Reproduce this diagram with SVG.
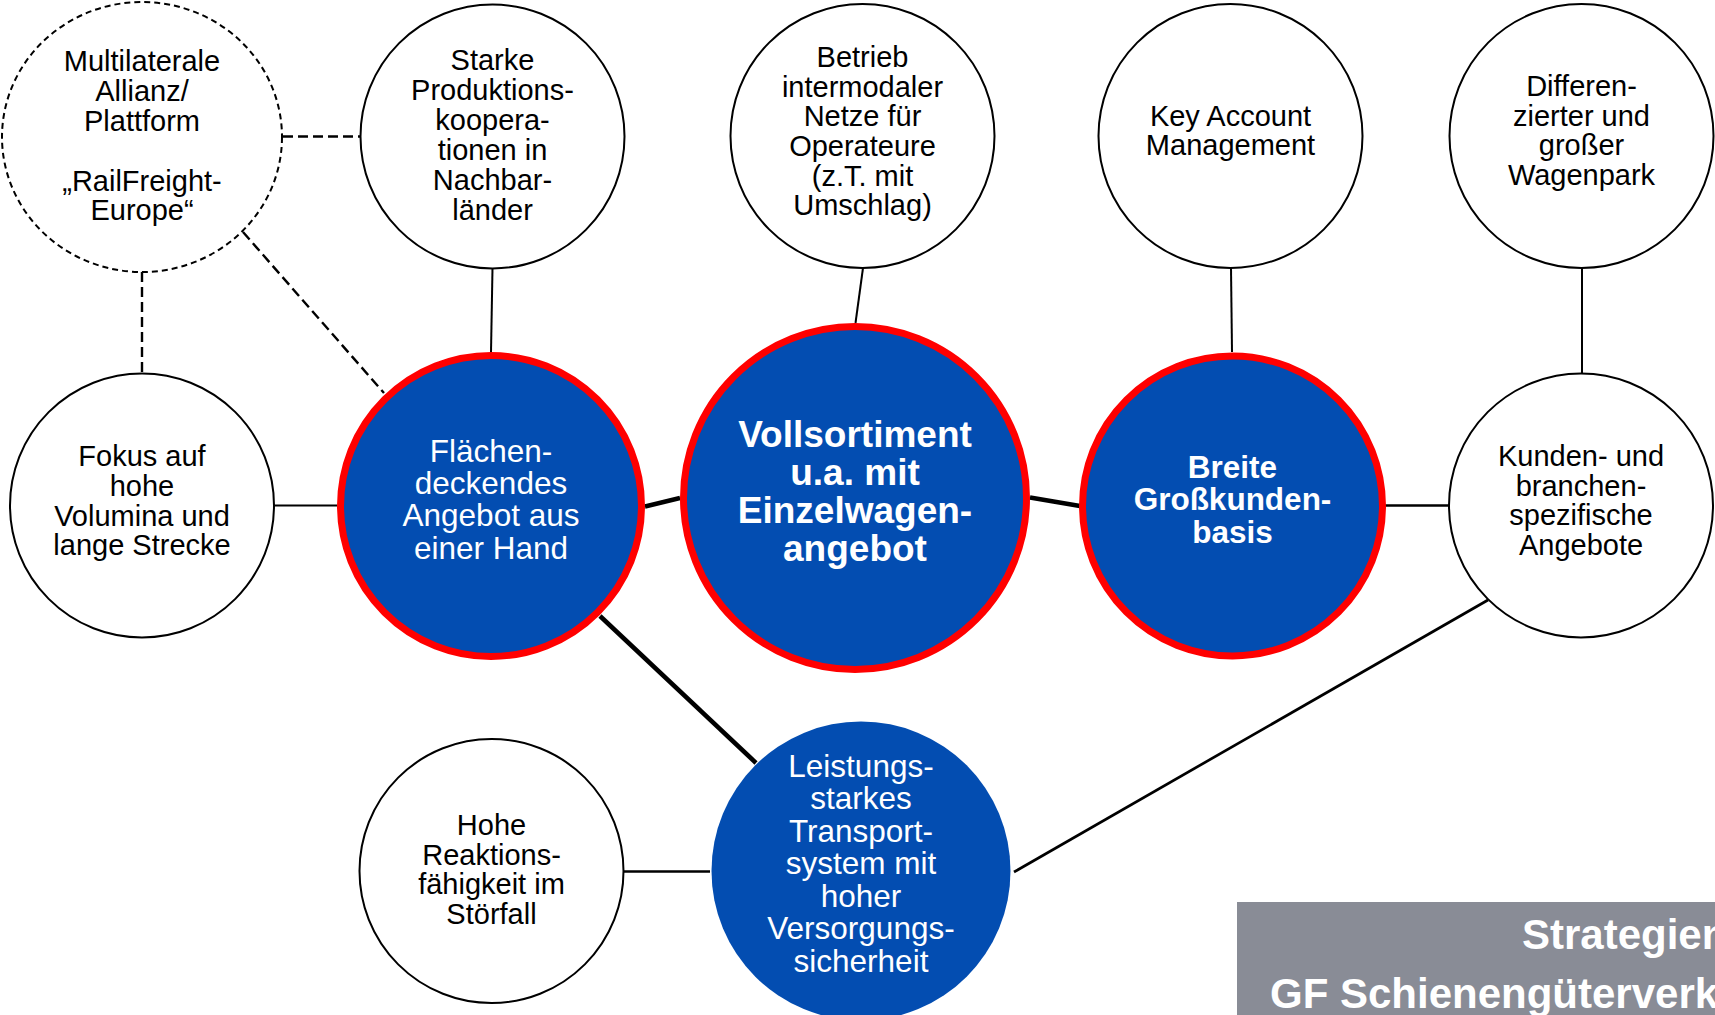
<svg xmlns="http://www.w3.org/2000/svg" width="1715" height="1015" viewBox="0 0 1715 1015">
<style>
.w{fill:#fff;stroke:#000;stroke-width:2}
.wd{fill:#fff;stroke:#000;stroke-width:2;stroke-dasharray:6 4}
.b{fill:#034DB1;stroke:#FF0000;stroke-width:7}
.bn{fill:#034DB1}
.t{font-family:"Liberation Sans",Arial,sans-serif;font-size:29px;fill:#000;text-anchor:middle}
.tb{font-family:"Liberation Sans",Arial,sans-serif;font-size:31.5px;fill:#fff;text-anchor:middle}
.tbb{font-family:"Liberation Sans",Arial,sans-serif;font-weight:bold;fill:#fff;text-anchor:middle}
.c1{stroke:#000;stroke-width:2;fill:none}
.c2{stroke:#000;stroke-width:2.7;fill:none}
.c3{stroke:#000;stroke-width:4.5;fill:none}
.cd{stroke:#000;stroke-width:2.4;fill:none;stroke-dasharray:10 5}
.bt{font-family:"Liberation Sans",Arial,sans-serif;font-weight:bold;font-size:42px;fill:#fff}
</style>
<rect width="1715" height="1015" fill="#fff"/>
<g id="connectors">
<line class="cd" x1="283" y1="136.5" x2="361" y2="136.5"/>
<line class="cd" x1="142" y1="272" x2="142" y2="373"/>
<line class="cd" x1="243" y1="232" x2="384" y2="393"/>
<line class="c1" x1="492.5" y1="268" x2="491" y2="352"/>
<line class="c1" x1="863" y1="268" x2="855.5" y2="323"/>
<line class="c1" x1="1231" y1="268" x2="1232" y2="352"/>
<line class="c1" x1="1582" y1="268" x2="1582" y2="373"/>
<line class="c1" x1="274" y1="505.5" x2="337" y2="505.5"/>
<line class="c3" x1="645" y1="506.5" x2="680" y2="498"/>
<line class="c3" x1="1030" y1="497.5" x2="1080" y2="506"/>
<line class="c2" x1="1385" y1="505.5" x2="1450" y2="505.5"/>
<line class="c3" x1="600" y1="616" x2="756" y2="763"/>
<line class="c2" x1="624" y1="871.5" x2="710" y2="871.5"/>
<line class="c2" x1="1014" y1="872" x2="1488" y2="600"/>
</g>
<g id="n-multilaterale">
<ellipse class="wd" cx="142" cy="137" rx="140" ry="135"/>
<text class="t"><tspan x="142" y="70.5">Multilaterale</tspan><tspan x="142" y="100.5">Allianz/</tspan><tspan x="142" y="130.5">Plattform</tspan><tspan x="142" y="190.5">„RailFreight-</tspan><tspan x="142" y="219.5">Europe“</tspan></text>
</g>
<g id="n-starke">
<ellipse class="w" cx="492.5" cy="136.5" rx="132" ry="132"/>
<text class="t"><tspan x="492.5" y="69.5">Starke</tspan><tspan x="492.5" y="99.5">Produktions-</tspan><tspan x="492.5" y="129.5">koopera-</tspan><tspan x="492.5" y="159.5">tionen in</tspan><tspan x="492.5" y="189.5">Nachbar-</tspan><tspan x="492.5" y="219.5">länder</tspan></text>
</g>
<g id="n-betrieb">
<ellipse class="w" cx="862.5" cy="136" rx="132" ry="132"/>
<text class="t"><tspan x="862.5" y="66.5">Betrieb</tspan><tspan x="862.5" y="96.5">intermodaler</tspan><tspan x="862.5" y="126">Netze für</tspan><tspan x="862.5" y="155.5">Operateure</tspan><tspan x="862.5" y="185.5">(z.T. mit</tspan><tspan x="862.5" y="215">Umschlag)</tspan></text>
</g>
<g id="n-key">
<ellipse class="w" cx="1230.5" cy="136" rx="132" ry="132"/>
<text class="t"><tspan x="1230.5" y="125.5">Key Account</tspan><tspan x="1230.5" y="155">Management</tspan></text>
</g>
<g id="n-differenzierter">
<ellipse class="w" cx="1581.5" cy="136" rx="132" ry="132"/>
<text class="t"><tspan x="1581.5" y="95.5">Differen-</tspan><tspan x="1581.5" y="125.5">zierter und</tspan><tspan x="1581.5" y="154.5">großer</tspan><tspan x="1581.5" y="184.5">Wagenpark</tspan></text>
</g>
<g id="n-fokus">
<ellipse class="w" cx="142" cy="505.5" rx="132" ry="132"/>
<text class="t"><tspan x="142" y="465.5">Fokus auf</tspan><tspan x="142" y="495.5">hohe</tspan><tspan x="142" y="525.5">Volumina und</tspan><tspan x="142" y="554.5">lange Strecke</tspan></text>
</g>
<g id="n-flaechen">
<circle class="b" cx="491" cy="506" r="150.5"/>
<text class="tb"><tspan x="491" y="462">Flächen-</tspan><tspan x="491" y="494.2">deckendes</tspan><tspan x="491" y="526.4">Angebot aus</tspan><tspan x="491" y="558.6">einer Hand</tspan></text>
</g>
<g id="n-vollsortiment">
<circle class="b" cx="855" cy="498" r="171.5"/>
<text class="tbb" font-size="37"><tspan x="855" y="447">Vollsortiment</tspan><tspan x="855" y="485">u.a. mit</tspan><tspan x="855" y="523">Einzelwagen-</tspan><tspan x="855" y="561">angebot</tspan></text>
</g>
<g id="n-breite">
<circle class="b" cx="1232.5" cy="506" r="150"/>
<text class="tbb" font-size="31.5"><tspan x="1232.5" y="477.5">Breite</tspan><tspan x="1232.5" y="510">Großkunden-</tspan><tspan x="1232.5" y="542.5">basis</tspan></text>
</g>
<g id="n-kunden">
<ellipse class="w" cx="1581" cy="505.5" rx="132" ry="132"/>
<text class="t"><tspan x="1581" y="465.5">Kunden- und</tspan><tspan x="1581" y="495.5">branchen-</tspan><tspan x="1581" y="524.5">spezifische</tspan><tspan x="1581" y="554.5">Angebote</tspan></text>
</g>
<g id="n-hohe">
<ellipse class="w" cx="491.5" cy="871" rx="132" ry="132"/>
<text class="t"><tspan x="491.5" y="835">Hohe</tspan><tspan x="491.5" y="864.5">Reaktions-</tspan><tspan x="491.5" y="894">fähigkeit im</tspan><tspan x="491.5" y="924">Störfall</tspan></text>
</g>
<g id="n-leistungs">
<circle class="bn" cx="861" cy="871" r="149.5"/>
<text class="tb" font-size="31"><tspan x="861" y="776.5">Leistungs-</tspan><tspan x="861" y="809">starkes</tspan><tspan x="861" y="841.5">Transport-</tspan><tspan x="861" y="874">system mit</tspan><tspan x="861" y="906.5">hoher</tspan><tspan x="861" y="939">Versorgungs-</tspan><tspan x="861" y="971.5">sicherheit</tspan></text>
</g>
<g id="banner">
<rect x="1237" y="902" width="478" height="113" fill="#898C96"/>
<text class="bt"><tspan x="1522" y="949">Strategien</tspan><tspan x="1270" y="1008">GF Schienengüterverk</tspan></text>
</g>
</svg>
